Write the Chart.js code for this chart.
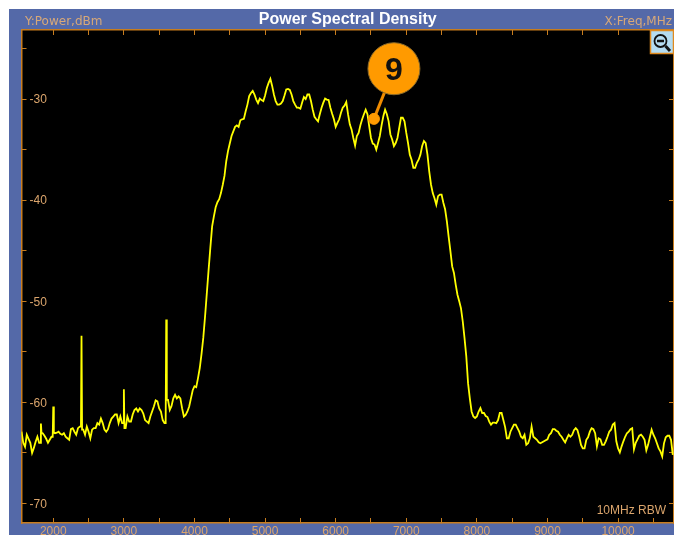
<!DOCTYPE html>
<html>
<head>
<meta charset="utf-8">
<title>Power Spectral Density</title>
<script src="https://cdn.jsdelivr.net/npm/chart.js@4"></script>
<style>
  html, body { margin: 0; padding: 0; background: #fff; overflow: hidden; }
  #panel { position: absolute; left: 9px; top: 9px; width: 665px; height: 526px; background: #5469a8; }
  #myChart { position: absolute; left: 0; top: 0; }
</style>
</head>
<body>
<div id="panel"></div>
<canvas id="myChart" width="674" height="535"></canvas>
<script>
// trace (MHz / dBm)
const freqMHz = [
  1550,1575,1600,1625,1650,1675,1700,1725,1750,1775,
  1800,1817,1825,1833,1850,1875,1900,1925,1950,1975,
  1992,2000,2008,2025,2050,2075,2100,2125,2150,2175,
  2200,2225,2250,2275,2300,2325,2350,2375,2392,2400,
  2408,2425,2450,2475,2500,2525,2550,2575,2600,2625,
  2650,2675,2700,2725,2750,2775,2800,2825,2850,2875,
  2900,2925,2950,2975,2992,3000,3008,3025,3050,3075,
  3100,3125,3150,3175,3200,3225,3250,3275,3300,3325,
  3350,3375,3400,3425,3450,3475,3500,3525,3550,3575,
  3592,3600,3608,3625,3650,3675,3700,3725,3750,3775,
  3800,3825,3850,3875,3900,3925,3950,3975,4000,4025,
  4050,4075,4100,4125,4150,4175,4200,4225,4250,4275,
  4300,4325,4350,4375,4400,4425,4450,4475,4500,4525,
  4550,4575,4600,4625,4650,4675,4700,4725,4750,4775,
  4800,4825,4850,4875,4900,4925,4950,4975,5000,5025,
  5050,5075,5100,5125,5150,5175,5200,5225,5250,5275,
  5300,5325,5350,5375,5400,5425,5450,5475,5500,5525,
  5550,5575,5600,5625,5650,5675,5700,5725,5750,5775,
  5800,5825,5850,5875,5900,5925,5950,5975,6000,6025,
  6050,6075,6100,6125,6150,6175,6200,6225,6250,6275,
  6300,6325,6350,6375,6400,6425,6450,6475,6500,6525,
  6550,6575,6600,6625,6650,6675,6700,6725,6750,6775,
  6800,6825,6850,6875,6900,6925,6950,6975,7000,7025,
  7050,7075,7100,7125,7150,7175,7200,7225,7250,7275,
  7300,7325,7350,7375,7400,7425,7450,7475,7500,7525,
  7550,7575,7600,7625,7650,7675,7700,7725,7750,7775,
  7800,7825,7850,7875,7900,7925,7950,7975,8000,8025,
  8050,8075,8100,8125,8150,8175,8200,8225,8250,8275,
  8300,8325,8350,8375,8400,8425,8450,8475,8500,8525,
  8550,8575,8600,8625,8650,8675,8700,8725,8750,8775,
  8800,8825,8850,8875,8900,8925,8950,8975,9000,9025,
  9050,9075,9100,9125,9150,9175,9200,9225,9250,9275,
  9300,9325,9350,9375,9400,9425,9450,9475,9500,9525,
  9550,9575,9600,9625,9650,9675,9700,9725,9750,9775,
  9800,9825,9850,9875,9900,9925,9950,9975,10000,10025,
  10050,10075,10100,10125,10150,10175,10200,10225,10250,10275,
  10300,10325,10350,10375,10400,10425,10450,10475,10500,10525,
  10550,10575,10600,10625,10650,10675,10700,10725,10750,10775
];
const powerDbm = [
  -62.9,-64.0,-64.4,-63.2,-63.6,-64.0,-65.0,-64.5,-63.9,-63.4,
  -64.0,-64.0,-62.1,-63.0,-63.05,-63.3,-63.6,-64.0,-63.7,-63.4,
  -63.4,-60.4,-63.0,-63.05,-63.0,-62.9,-63.1,-63.2,-63.05,-63.4,
  -63.55,-63.7,-62.65,-62.55,-62.9,-63.2,-62.55,-62.4,-62.4,-53.4,
  -62.7,-62.7,-63.2,-62.4,-62.9,-63.55,-62.7,-62.55,-62.55,-62.05,
  -62.2,-61.6,-62.05,-62.7,-62.9,-62.65,-62.05,-61.6,-61.4,-61.2,
  -61.2,-62.05,-61.4,-62.05,-62.05,-58.7,-62.55,-62.55,-61.4,-61.9,
  -61.9,-61.2,-60.75,-60.6,-60.9,-60.6,-60.75,-61.1,-61.75,-61.9,
  -62.05,-61.4,-60.9,-60.4,-59.8,-59.9,-60.6,-60.9,-61.75,-62.05,
  -62.05,-51.8,-59.75,-59.75,-60.75,-60.35,-59.6,-59.25,-59.6,-59.4,
  -59.6,-60.6,-61.4,-61.25,-60.9,-60.4,-59.6,-58.8,-58.4,-58.5,
  -57.6,-56.6,-55.2,-53.6,-51.5,-49.2,-46.9,-44.7,-42.6,-41.6,
  -40.7,-40.2,-39.9,-39.3,-38.5,-37.6,-36.15,-35.15,-34.4,-33.65,
  -33.2,-32.75,-32.6,-32.75,-32.1,-32,-31.95,-31.2,-30.55,-29.7,
  -29.4,-29.2,-29.55,-30.05,-30.4,-29.95,-30.1,-30.2,-29.65,-28.9,
  -28.4,-28,-28.7,-29.55,-30.2,-30.55,-30.55,-30.45,-30.2,-29.65,
  -29.05,-29,-29.1,-29.55,-30.2,-30.55,-30.85,-30.85,-30.95,-30.35,
  -29.8,-30,-29.55,-29.55,-30.2,-31.05,-31.75,-32,-32.2,-31.5,
  -30.85,-30.35,-29.95,-30.05,-30.1,-30.85,-31.45,-32,-32.75,-32.35,
  -32,-31.35,-30.85,-30.65,-30.3,-31.5,-32.5,-33,-33.85,-34.6,
  -33.65,-33.35,-32.6,-32,-31.5,-31.05,-31.5,-32.7,-33.85,-34.4,
  -34.5,-35,-34.35,-33.65,-32.6,-31.7,-31.05,-31.5,-32.2,-33.5,
  -34,-34.65,-34.35,-33.85,-32.85,-31.85,-31.85,-32.2,-33.35,-34.35,
  -35.5,-36,-36.8,-36.8,-36.3,-36,-35.5,-34.65,-34.15,-34.35,
  -35.5,-37.15,-38.45,-39.3,-39.8,-40.45,-39.6,-39.45,-39.45,-40.25,
  -40.9,-42.1,-43.6,-45.05,-46.55,-47.2,-48.35,-49.35,-50,-50.7,
  -52,-53.65,-55.45,-58.1,-59.6,-60.9,-61.4,-61.55,-61.4,-60.9,
  -60.55,-61.05,-61.05,-61.35,-61.45,-61.9,-62.2,-62,-62,-62.05,
  -61.75,-61.05,-61.05,-61.75,-62.45,-63.55,-63.55,-62.9,-62.55,-62.2,
  -62.2,-62.55,-62.9,-63.4,-63.55,-63.2,-64.2,-64.05,-63.55,-62.4,
  -63.4,-63.55,-63.7,-63.95,-64.05,-63.95,-63.85,-63.75,-63.65,-63.2,
  -63.05,-62.65,-62.65,-62.8,-62.9,-63.2,-63.4,-63.7,-63.95,-63.55,
  -63.2,-63.4,-63.2,-62.75,-62.55,-62.75,-63.4,-64.2,-64.55,-64.55,
  -63.7,-63.45,-62.9,-62.55,-62.65,-63.05,-64.35,-63.55,-63.65,-64.2,
  -64.2,-63.85,-63.4,-62.9,-62.7,-62.2,-62.05,-63.85,-64.55,-64.95,
  -64.35,-63.85,-63.4,-63.05,-62.9,-62.65,-62.55,-64.65,-64,-63.65,
  -63.3,-63.2,-63.4,-63.7,-64.75,-64.2,-63.45,-62.7,-63.2,-63.55,
  -64.05,-64.55,-64.85,-65.35,-64.05,-63.45,-63.3,-63.3,-63.7,-65.2
];

// ticks
const xTickValues = [2000,2500,3000,3500,4000,4500,5000,5500,6000,6500,7000,7500,8000,8500,9000,9500,10000,10500];
const xTickLabels = ['2000','','3000','','4000','','5000','','6000','','7000','','8000','','9000','','10000',''];
const yTickValues = [-70,-65,-60,-55,-50,-45,-40,-35,-30,-25];
const yTickLabels = ['-70','','-60','','-50','','-40','','-30',''];

// the numbered callout: dot on the trace, then the big circle
const calloutFreq = [6542, 6825];
const calloutPower = [-31.96, -27.0];
const calloutText = '9';

const axisColor = '#c87d1e';
const textColor = '#dba56c';
const labelFont = { family: '"Liberation Sans", Arial, sans-serif', size: 12 };

const xRange = { min: 1550, max: 10792 };
const yRange = { min: -71.93, max: -23.17 };

function xTicksOnly(scale) { scale.ticks = xTickValues.map(v => ({ value: v })); }
function yTicksOnly(scale) { scale.ticks = yTickValues.map(v => ({ value: v })); }
// axes sit exactly on the plot edge, no room kept for labels
function fixSize(scale, w, h) {
  if (w !== null) scale.width = w;
  if (h !== null) scale.height = h;
  scale.paddingLeft = 0;
  scale.paddingRight = 0;
  scale.paddingTop = 0;
  scale.paddingBottom = 0;
}
const tickGrid = { drawOnChartArea: false, color: axisColor, tickLength: -5, lineWidth: 1 };
const axisBorder = { color: axisColor, width: 1.5 };

// black plot background and the text / icon that are not on an axis
const panelPlugin = {
  id: 'panel',
  beforeDraw(chart) {
    const a = chart.chartArea;
    const ctx = chart.ctx;
    ctx.save();
    ctx.fillStyle = '#000';
    ctx.fillRect(a.left, a.top, a.right - a.left, a.bottom - a.top);
    ctx.restore();
  },
  afterDraw(chart) {
    const ctx = chart.ctx;
    ctx.save();
    ctx.font = '12px "DejaVu Sans", sans-serif';
    ctx.fillStyle = '#d8a878';
    ctx.textBaseline = 'middle';
    ctx.textAlign = 'left';
    ctx.fillText('Y:Power,dBm', 25, 22);
    ctx.textAlign = 'right';
    ctx.fillText('X:Freq,MHz', 672, 22);
    ctx.font = '12px "Liberation Sans", Arial, sans-serif';
    ctx.fillStyle = textColor;
    ctx.fillText('10MHz RBW', 666, 511);

    // zoom out button
    ctx.fillStyle = '#b4dcf2';
    ctx.strokeStyle = '#e08a1e';
    ctx.lineWidth = 1.5;
    ctx.fillRect(650.5, 30.5, 23, 23);
    ctx.strokeRect(650.5, 30.5, 23, 23);
    ctx.strokeStyle = '#111';
    ctx.lineWidth = 1.8;
    ctx.beginPath();
    ctx.arc(660.5, 41, 6, 0, Math.PI * 2);
    ctx.stroke();
    ctx.lineWidth = 2.5;
    ctx.beginPath();
    ctx.moveTo(657, 41);
    ctx.lineTo(664, 41);
    ctx.stroke();
    ctx.lineWidth = 3;
    ctx.beginPath();
    ctx.moveTo(665.5, 46);
    ctx.lineTo(670, 51);
    ctx.stroke();

    // callout number
    const px = chart.scales.x.getPixelForValue(calloutFreq[1]);
    const py = chart.scales.y.getPixelForValue(calloutPower[1]);
    ctx.fillStyle = '#111';
    ctx.font = 'bold 32px "Liberation Sans", Arial, sans-serif';
    ctx.textAlign = 'center';
    ctx.fillText(calloutText, px, py + 2);
    ctx.restore();
  }
};

const ctx = document.getElementById('myChart').getContext('2d');
const chart = new Chart(ctx, {
  type: 'line',
  data: {
    datasets: [
      {
        label: 'Callout',
        data: calloutFreq.map((f, i) => ({ x: f, y: calloutPower[i] })),
        borderColor: '#f08c00',
        borderWidth: 3,
        backgroundColor: '#ff9a00',
        pointBackgroundColor: '#ff9a00',
        pointBorderColor: ['#ff9a00', '#8a6a2a'],
        pointBorderWidth: 1,
        pointRadius: [5.5, 26],
        clip: false,
        order: 0
      },
      {
        label: 'Power',
        data: freqMHz.map((f, i) => ({ x: f, y: powerDbm[i] })),
        borderColor: '#ffff00',
        borderWidth: 1.8,
        pointRadius: 0,
        tension: 0,
        order: 1
      }
    ]
  },
  options: {
    responsive: false,
    animation: false,
    events: [],
    // the big callout circle must not push the plot area in
    layout: { autoPadding: false, padding: { left: 21.5, right: 0, top: 0, bottom: 0 } },
    plugins: {
      legend: { display: false },
      tooltip: { enabled: false },
      title: {
        display: true,
        text: 'Power Spectral Density',
        color: '#fff',
        fullSize: false,
        font: { family: '"Liberation Sans", Arial, sans-serif', size: 16, weight: 'bold', lineHeight: 1.2 },
        padding: { top: 10, bottom: 0.8 }
      }
    },
    scales: {
      x: {
        type: 'linear',
        position: 'bottom',
        min: xRange.min,
        max: xRange.max,
        afterBuildTicks: xTicksOnly,
        afterFit(scale) { fixSize(scale, null, 12); },
        grid: tickGrid,
        border: axisBorder,
        ticks: {
          autoSkip: false,
          maxRotation: 0,
          padding: 6,
          color: textColor,
          font: labelFont,
          callback: (value, index) => xTickLabels[index]
        }
      },
      y: {
        type: 'linear',
        position: 'left',
        min: yRange.min,
        max: yRange.max,
        afterBuildTicks: yTicksOnly,
        afterFit(scale) { fixSize(scale, 0, null); },
        grid: tickGrid,
        border: axisBorder,
        ticks: {
          mirror: true,
          padding: 8,
          labelOffset: 1,
          color: textColor,
          font: labelFont,
          callback: (value, index) => yTickLabels[index]
        }
      },
      xTop: {
        type: 'linear',
        position: 'top',
        min: xRange.min,
        max: xRange.max,
        afterBuildTicks: xTicksOnly,
        afterFit(scale) { fixSize(scale, null, 0); },
        grid: tickGrid,
        border: axisBorder,
        ticks: { display: false }
      },
      yRight: {
        type: 'linear',
        position: 'right',
        min: yRange.min,
        max: yRange.max,
        afterBuildTicks: yTicksOnly,
        afterFit(scale) { fixSize(scale, 0, null); },
        grid: tickGrid,
        border: axisBorder,
        ticks: { display: false }
      }
    }
  },
  plugins: [panelPlugin]
});
</script>
</body>
</html>
